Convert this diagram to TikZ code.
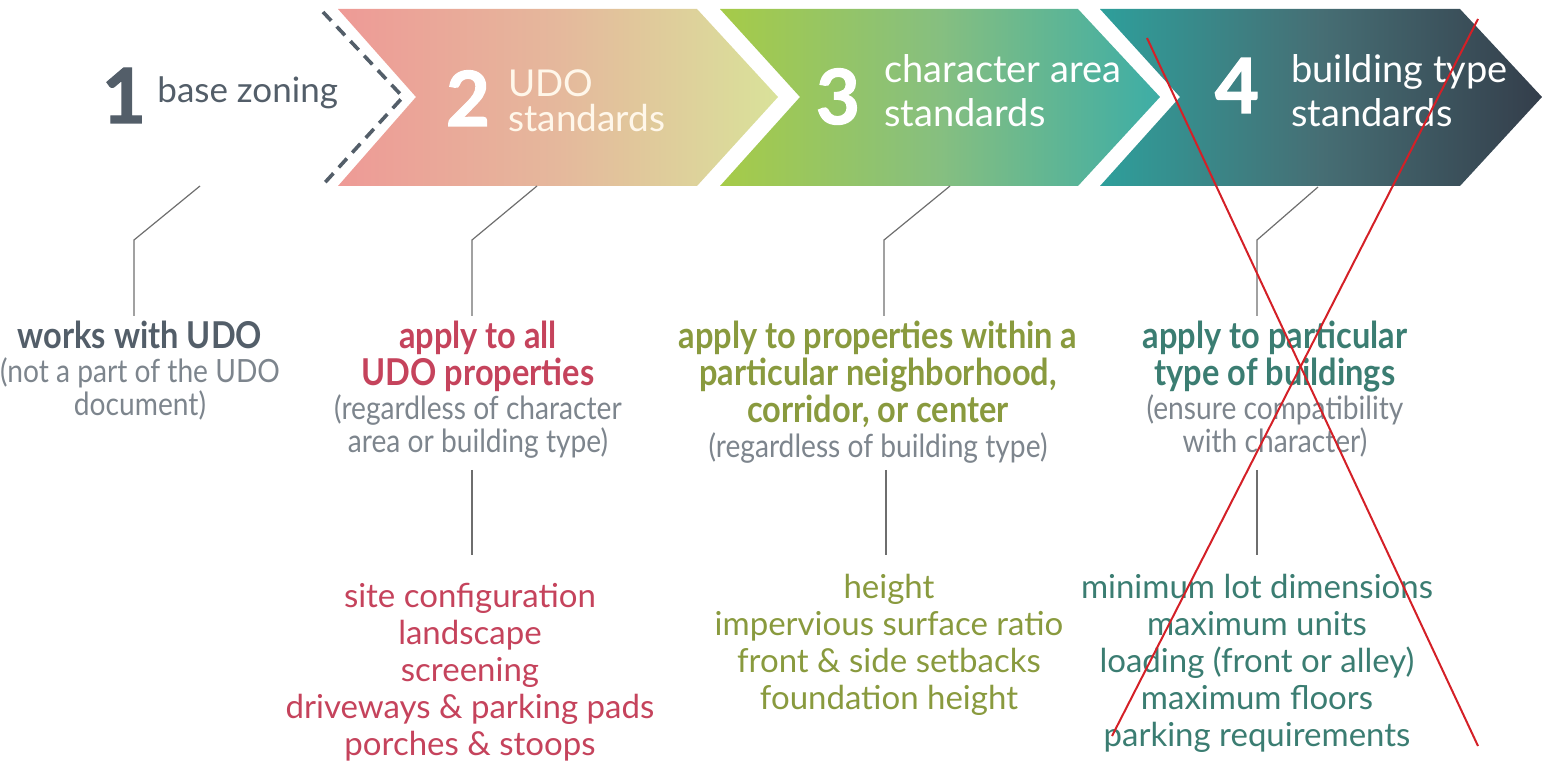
\documentclass[tikz,border=0pt]{standalone}
\usepackage{fontspec}
\setmainfont{Lato}
\newfontfamily\bodyfont[FakeStretch=0.88]{Lato}
\newfontfamily\numfont[FakeBold=1.6]{Lato}
\definecolor{slate}{HTML}{535E69}
\definecolor{notegray}{HTML}{7D858D}
\definecolor{linegray}{HTML}{6E6E6E}
\definecolor{crimson}{HTML}{C5435C}
\definecolor{olive}{HTML}{899A3E}
\definecolor{tealtext}{HTML}{3B7D72}
\definecolor{xred}{HTML}{D42027}
\definecolor{cA}{HTML}{EE9A96}
\definecolor{cAm}{HTML}{E5B89C}
\definecolor{cAr}{HTML}{D9E29A}
\definecolor{cB}{HTML}{A6CB48}
\definecolor{cBm}{HTML}{86BF80}
\definecolor{cBr}{HTML}{3DADA6}
\definecolor{cC}{HTML}{2E9F9B}
\definecolor{cCm}{HTML}{466E74}
\definecolor{cCr}{HTML}{343E4B}
\definecolor{cream}{HTML}{FFF7EA}
\begin{document}
\begin{tikzpicture}[x=0.5pt,y=-0.5pt,
  hdr/.style={text=white, font=\fontsize{19}{20}\selectfont, align=left, inner sep=0, anchor=base west},
  num/.style={text=white, font=\numfont\bfseries\fontsize{38}{38}\selectfont, inner sep=0, anchor=base},
  lead/.style={font=\bodyfont\bfseries\fontsize{18.5}{18.5}\selectfont, align=center, inner sep=0, anchor=base},
  note/.style={text=notegray, font=\bodyfont\fontsize{16}{16.5}\selectfont, align=center, inner sep=0, anchor=base},
  listtext/.style={font=\fontsize{16.5}{18.5}\selectfont, align=center, inner sep=0, anchor=base},
  conn/.style={draw=linegray, line width=0.6pt},
  redx/.style={draw=xred, line width=1pt}]
\useasboundingbox (0,0) rectangle (1543,764);

% chevrons
\shade[left color=cA, right color=cAr, middle color=cAm]
  (338,9) -- (697,9) -- (778,97) -- (697,186) -- (338,186) -- (416,97) -- cycle;
\shade[left color=cB, right color=cBr, middle color=cBm]
  (720,9) -- (1078,9) -- (1160,97) -- (1078,186) -- (720,186) -- (800,97) -- cycle;
\shade[left color=cC, right color=cCr, middle color=cCm]
  (1100,9) -- (1460,9) -- (1542,97) -- (1460,186) -- (1100,186) -- (1180,97) -- cycle;
\draw[slate, line width=1.8pt, dash pattern=on 6pt off 4pt] (323,12) -- (403,97) -- (320,188);

% headers (anchor = baseline of last line)
\node[num, text=slate] (n1) at (124,123) {1};
\node[hdr, text=slate, font=\fontsize{17.5}{18}\selectfont] (h1) at (157,103) {base zoning};
\node[num] (n2) at (468,126) {2};
\node[hdr, text=cream, font=\fontsize{18.5}{17.5}\selectfont] (h2) at (508,132) {UDO\\standards};
\node[num] (n3) at (838,124) {3};
\node[hdr, font=\fontsize{19}{22}\selectfont] (h3) at (884,127) {character area\\standards};
\node[num] (n4) at (1237,113) {4};
\node[hdr, font=\fontsize{19}{22}\selectfont] (h4) at (1291,127) {building type\\standards};

% leads and notes
\node[lead, text=slate] (l1) at (140,349) {works with UDO};
\node[note] (s1) at (140,416) {(not a part of the UDO\\document)};
\node[lead, text=crimson] (l2) at (478,386) {apply to all\\UDO properties};
\node[note] (s2) at (478,453) {(regardless of character\\area or building type)};
\node[lead, text=olive] (l3) at (878,423) {apply to properties within a\\particular neighborhood,\\corridor, or center};
\node[note] (s3) at (878,458) {(regardless of building type)};
\node[lead, text=tealtext] (l4) at (1275,386) {apply to particular\\type of buildings};
\node[note] (s4) at (1275,453) {(ensure compatibility\\with character)};

% lists
\node[listtext, text=crimson] (t2) at (470,755) {site configuration\\landscape\\screening\\driveways \& parking pads\\porches \& stoops};
\node[listtext, text=olive] (t3) at (889,709) {height\\impervious surface ratio\\front \& side setbacks\\foundation height};
\node[listtext, text=tealtext] (t4) at (1257,746) {minimum lot dimensions\\maximum units\\loading (front or alley)\\maximum floors\\parking requirements};

% connectors
\coordinate (a1) at (200,186); \coordinate (b1) at (134,240); \coordinate (c1) at (134,316);
\coordinate (a2) at (537,186); \coordinate (b2) at (472,240); \coordinate (c2) at (472,316);
\coordinate (d2) at (472,470); \coordinate (e2) at (472,555);
\coordinate (a3) at (950,186); \coordinate (b3) at (884,240); \coordinate (c3) at (884,316);
\coordinate (d3) at (886,470); \coordinate (e3) at (886,555);
\coordinate (a4) at (1318,187); \coordinate (b4) at (1257,240); \coordinate (c4) at (1257,316);
\coordinate (d4) at (1257,470); \coordinate (e4) at (1257,555);
\draw[conn] (a1) -- (b1) -- (c1);
\draw[conn] (a2) -- (b2) -- (c2);
\draw[conn] (d2) -- (e2);
\draw[conn] (a3) -- (b3) -- (c3);
\draw[conn] (d3) -- (e3);
\draw[conn] (a4) -- (b4) -- (c4);
\draw[conn] (d4) -- (e4);

% red cross
\coordinate (x1) at (1147,38); \coordinate (x2) at (1478,746);
\coordinate (x3) at (1478,19); \coordinate (x4) at (1112,736);
\draw[redx] (x1) -- (x2);
\draw[redx] (x3) -- (x4);
\end{tikzpicture}
\end{document}
